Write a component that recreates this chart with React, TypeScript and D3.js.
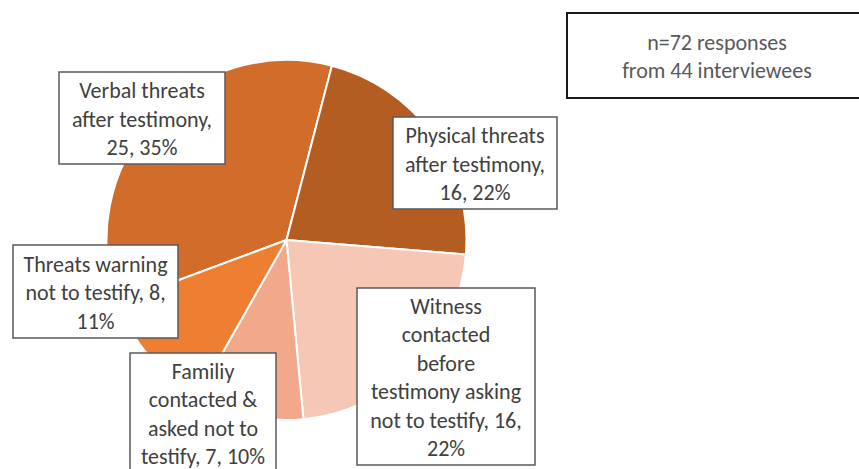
import * as d3 from "d3";
import { useEffect, useRef } from "react";

// slice data
const categories = [
  "Verbal threats after testimony",
  "Physical threats after testimony",
  "Witness contacted before testimony asking not to testify",
  "Familiy contacted & asked not to testify",
  "Threats warning not to testify",
];
const counts = [25, 16, 16, 7, 8];
const colors = ["#D26C2A", "#B45D23", "#F6C7B5", "#F2A98B", "#EE7E32"];

// label text as laid out in the chart
const labelLines = [
  ["Verbal threats", "after testimony,", "25, 35%"],
  ["Physical threats", "after testimony,", "16, 22%"],
  ["Witness", "contacted", "before", "testimony asking", "not to testify, 16,", "22%"],
  ["Familiy", "contacted &", "asked not to", "testify, 7, 10%"],
  ["Threats warning", "not to testify, 8,", "11%"],
];
const noteLines = ["n=72 responses", "from 44 interviewees"];

// label box placement [x, y, w, h, text shift]
const labelBoxes = [
  [59, 72, 166, 92, 0],
  [393, 117, 164, 92, 0],
  [357, 288, 178, 177, 0],
  [130, 353, 146, 130, -5],
  [13, 245, 165, 93, 0],
];

const W = 859;
const H = 469;
const cx = 286.5;
const cy = 240;
const radius = 180;
const lineH = 28.5;
const font = "Calibri, Carlito, Lato, sans-serif";
const fontSize = 22;

const App = () => {
  const ref = useRef<SVGSVGElement>(null);

  useEffect(() => {
    const svg = d3.select(ref.current);
    svg.selectAll("*").remove();

    const pie = d3
      .pie<number>()
      .sort(null)
      .value((d) => d)
      .startAngle((-110.4 * Math.PI) / 180)
      .endAngle(((360 - 110.4) * Math.PI) / 180);
    const arc = d3.arc<d3.PieArcDatum<number>>().innerRadius(0).outerRadius(radius);

    const g = svg.append("g").attr("transform", `translate(${cx},${cy})`);
    g.selectAll("path")
      .data(pie(counts))
      .enter()
      .append("path")
      .attr("d", arc)
      .attr("fill", (_, i) => colors[i])
      .attr("stroke", "#fff")
      .attr("stroke-width", 2)
      .attr("stroke-linejoin", "round");

    // data labels
    labelBoxes.forEach(([x, y, w, h, shift], i) => {
      const lg = svg.append("g").attr("class", "label").attr("data-cat", categories[i]);
      lg.append("rect")
        .attr("x", x)
        .attr("y", y)
        .attr("width", w)
        .attr("height", h)
        .attr("fill", "#fff")
        .attr("stroke", "#595959")
        .attr("stroke-width", 1.5);
      const lines = labelLines[i];
      const top = y + 1 + shift + (h - lines.length * lineH) / 2;
      lines.forEach((t, j) => {
        lg.append("text")
          .attr("x", x + w / 2)
          .attr("y", top + lineH * (j + 0.5))
          .attr("dy", "0.35em")
          .attr("text-anchor", "middle")
          .attr("font-family", font)
          .attr("font-size", fontSize)
          .attr("fill", "#404040")
          .text(t);
      });
    });

    // note box
    svg.append("rect")
      .attr("x", 567)
      .attr("y", 13)
      .attr("width", 300)
      .attr("height", 85)
      .attr("fill", "#fff")
      .attr("stroke", "#1a1a1a")
      .attr("stroke-width", 2);
    noteLines.forEach((t, j) => {
      svg.append("text")
        .attr("x", 717)
        .attr("y", 42 + j * 28)
        .attr("dy", "0.35em")
        .attr("text-anchor", "middle")
        .attr("font-family", font)
        .attr("font-size", fontSize)
        .attr("fill", "#595959")
        .text(t);
    });
  }, []);

  return (
    <svg
      ref={ref}
      width={W}
      height={H}
      style={{ position: "absolute", left: 0, top: 0, background: "#fff" }}
    />
  );
};

export default App;
